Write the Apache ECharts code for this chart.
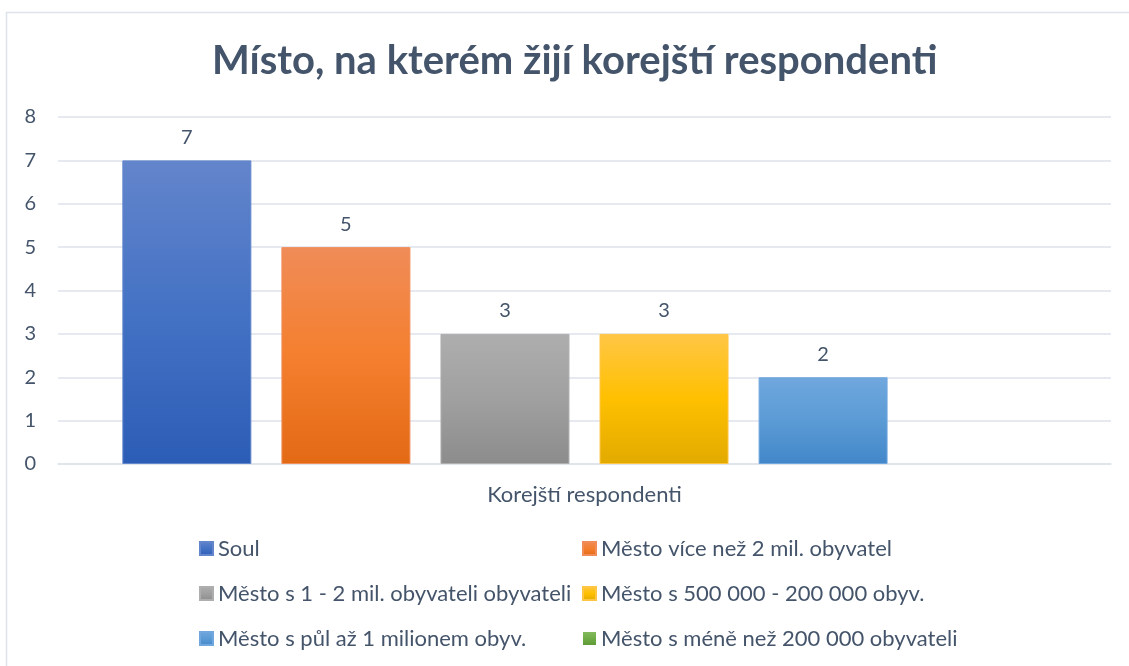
<!DOCTYPE html>
<html>
<head>
<meta charset="utf-8">
<script src="https://cdn.jsdelivr.net/npm/echarts@6/dist/echarts.min.js"></script>
<style>
  html, body { margin: 0; padding: 0; background: #fff; }
  #chart { width: 1129px; height: 666px; }
</style>
</head>
<body>
<div id="chart"></div>
<script>
const categories = ["Korejští respondenti"];
const seriesNames = [
  "Soul",
  "Město více než 2 mil. obyvatel",
  "Město s 1 - 2 mil. obyvateli obyvateli",
  "Město s 500 000 - 200 000 obyv.",
  "Město s půl až 1 milionem obyv.",
  "Město s méně než 200 000 obyvateli",
];
const seriesValues = [7, 5, 3, 3, 2, 0];
const yTicks = [0, 1, 2, 3, 4, 5, 6, 7, 8];

// top / middle / bottom gradient stops per series
const palette = [
  ["#6385CC", "#4472C4", "#2C5DB6"],
  ["#F08C58", "#F47F2E", "#E36A15"],
  ["#AEAEAE", "#A0A0A0", "#8C8C8C"],
  ["#FFC646", "#FFC000", "#E2AA00"],
  ["#70A7DE", "#5B9BD5", "#4287CA"],
  ["#83BA5E", "#70AD47", "#5F9A38"],
];

const textColor = "#44546A";
const fontFamily = "Lato, 'Open Sans', sans-serif";

const chart = echarts.init(document.getElementById("chart"));

const series = seriesNames.map((name, i) => ({
  name,
  type: "bar",
  barWidth: 129,
  barGap: "23.3%",
  data: [seriesValues[i]],
  itemStyle: {
    color: new echarts.graphic.LinearGradient(0, 0, 0, 1, [
      { offset: 0, color: palette[i][0] },
      { offset: 0.5, color: palette[i][1] },
      { offset: 1, color: palette[i][2] },
    ]),
    borderColor: palette[i][0],
    borderWidth: seriesValues[i] > 0 ? 1 : 0,
  },
  label: {
    show: true,
    position: "top",
    distance: 13,
    color: textColor,
    fontSize: 20,
    fontFamily,
    formatter: (p) => (p.value ? String(p.value) : ""),
  },
}));

const legendBase = {
  orient: "vertical",
  icon: "rect",
  padding: 0,
  itemWidth: 13,
  itemHeight: 13,
  itemGap: 22,
  textStyle: { color: textColor, fontSize: 22, lineHeight: 23, fontFamily },
};

chart.setOption({
  animation: false,
  title: {
    text: "Místo, na kterém žijí korejští respondenti",
    left: 207,
    top: 36,
    textStyle: { color: textColor, fontSize: 40, fontWeight: "bold", fontFamily },
  },
  graphic: [
    {
      type: "rect",
      shape: { x: 6.5, y: 12.5, width: 1200, height: 700 },
      style: { fill: "none", stroke: "#DEE2EA", lineWidth: 1.5 },
      silent: true,
    },
  ],
  legend: [
    Object.assign({}, legendBase, {
      left: 199,
      top: 537,
      data: [seriesNames[0], seriesNames[2], seriesNames[4]],
    }),
    Object.assign({}, legendBase, {
      left: 582,
      top: 537,
      data: [seriesNames[1], seriesNames[3], seriesNames[5]],
    }),
  ],
  grid: { left: 58, right: 18, top: 117, bottom: 202 },
  xAxis: {
    type: "category",
    data: categories,
    axisTick: { show: false },
    axisLine: { lineStyle: { color: "#DEE2EA", width: 1.5 } },
    axisLabel: { color: textColor, fontSize: 22, fontFamily, margin: 20 },
  },
  yAxis: {
    type: "value",
    min: yTicks[0],
    max: yTicks[yTicks.length - 1],
    interval: 1,
    axisLine: { show: false },
    axisTick: { show: false },
    axisLabel: { color: textColor, fontSize: 20, fontFamily, margin: 22 },
    splitLine: { lineStyle: { color: "#DEE2EA", width: 1.5 } },
  },
  series,
});
</script>
</body>
</html>
